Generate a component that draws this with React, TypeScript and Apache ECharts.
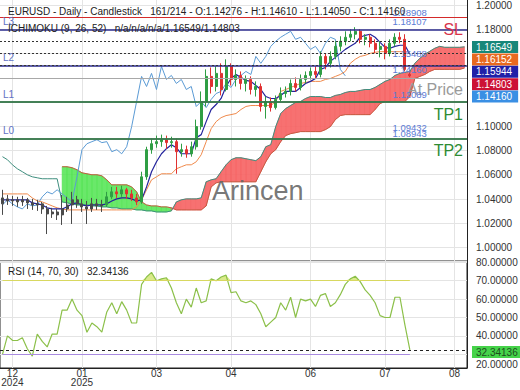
import React, { useEffect, useRef } from 'react';
import * as echarts from 'echarts';

const slotCount = 94;
const xTickIdx = [2, 16, 31, 46, 62, 77, 91];
const xTickLabels = ['12\n2024', '01\n2025', '03', '04', '06', '07', '08'];

const opens = [
  1.0360, 1.0401, 1.0384, 1.0393, 1.0376, 1.0393, 1.0368, 1.0351, 1.0360, 1.0318,
  1.0277, 1.0293, 1.0269, 1.0318, 1.0351, 1.0393, 1.0360, 1.0335, 1.0318, 1.0360,
  1.0343, 1.0351, 1.0418, 1.0459, 1.0442, 1.0476, 1.0442, 1.0409, 1.0376, 1.0583,
  1.0807, 1.0856, 1.0873, 1.0889, 1.0865, 1.0873, 1.0790, 1.0807, 1.0773, 1.0831,
  1.0997, 1.1204, 1.1411, 1.1328, 1.1436, 1.1303, 1.1494, 1.1386, 1.1419, 1.1353,
  1.1386, 1.1303, 1.1328, 1.1163, 1.1204, 1.1154, 1.1221, 1.1270, 1.1287, 1.1353,
  1.1320, 1.1386, 1.1419, 1.1452, 1.1427, 1.1576, 1.1519, 1.1576, 1.1659, 1.1701,
  1.1734, 1.1759, 1.1783, 1.1717, 1.1734, 1.1684, 1.1634, 1.1659, 1.1601, 1.1684,
  1.1734, 1.1717, 1.14276,
];
const closes = [
  1.0409, 1.0384, 1.0393, 1.0376, 1.0393, 1.0368, 1.0351, 1.0360, 1.0318, 1.0277,
  1.0293, 1.0269, 1.0318, 1.0351, 1.0393, 1.0360, 1.0335, 1.0318, 1.0360, 1.0343,
  1.0351, 1.0418, 1.0459, 1.0442, 1.0476, 1.0442, 1.0409, 1.0376, 1.0583, 1.0807,
  1.0856, 1.0873, 1.0889, 1.0865, 1.0873, 1.0790, 1.0807, 1.0773, 1.0831, 1.0997,
  1.1204, 1.1411, 1.1328, 1.1436, 1.1303, 1.1494, 1.1386, 1.1419, 1.1353, 1.1386,
  1.1303, 1.1328, 1.1163, 1.1204, 1.1154, 1.1221, 1.1270, 1.1287, 1.1353, 1.1320,
  1.1386, 1.1419, 1.1452, 1.1427, 1.1576, 1.1519, 1.1576, 1.1659, 1.1701, 1.1734,
  1.1759, 1.1783, 1.1717, 1.1734, 1.1684, 1.1634, 1.1659, 1.1601, 1.1684, 1.1734,
  1.1717, 1.1469, 1.14160,
];
const lows = [
  1.0269, 1.0351, 1.0343, 1.0335, 1.0343, 1.0318, 1.0310, 1.0302, 1.0277, 1.0111,
  1.0244, 1.0227, 1.0186, 1.0293, 1.0194, 1.0327, 1.0293, 1.0194, 1.0293, 1.0310,
  1.0293, 1.0335, 1.0401, 1.0409, 1.0418, 1.0401, 1.0384, 1.0351, 1.0360, 1.0558,
  1.0773, 1.0823, 1.0831, 1.0815, 1.0823, 1.0608, 1.0749, 1.0740, 1.0749, 1.0807,
  1.0972, 1.1163, 1.1270, 1.1287, 1.1254, 1.1287, 1.1336, 1.1328, 1.1303, 1.1287,
  1.1262, 1.1245, 1.1121, 1.1063, 1.1121, 1.1138, 1.1204, 1.1237, 1.1254, 1.1287,
  1.1295, 1.1353, 1.1386, 1.1394, 1.1403, 1.1469, 1.1485, 1.1552, 1.1618, 1.1668,
  1.1701, 1.1717, 1.1684, 1.1668, 1.1651, 1.1601, 1.1568, 1.1552, 1.1576, 1.1659,
  1.1684, 1.1452, 1.14050,
];
const highs = [
  1.0476, 1.0434, 1.0426, 1.0418, 1.0426, 1.0409, 1.0401, 1.0393, 1.0376, 1.0343,
  1.0327, 1.0318, 1.0434, 1.0418, 1.0459, 1.0426, 1.0401, 1.0384, 1.0409, 1.0401,
  1.0393, 1.0459, 1.0500, 1.0500, 1.0509, 1.0492, 1.0476, 1.0442, 1.0625, 1.0831,
  1.0898, 1.0923, 1.0931, 1.0923, 1.0914, 1.0898, 1.0856, 1.0840, 1.0873, 1.1055,
  1.1287, 1.1469, 1.1485, 1.1494, 1.1519, 1.1552, 1.1519, 1.1469, 1.1452, 1.1419,
  1.1411, 1.1370, 1.1353, 1.1245, 1.1237, 1.1254, 1.1320, 1.1328, 1.1386, 1.1403,
  1.1427, 1.1452, 1.1485, 1.1494, 1.1618, 1.1601, 1.1618, 1.1701, 1.1742, 1.1783,
  1.1800, 1.1817, 1.1800, 1.1759, 1.1759, 1.1717, 1.1701, 1.1684, 1.1717, 1.1767,
  1.1775, 1.1759, 1.14610,
];

const tenkan = [
  1.0393, 1.0393, 1.0393, 1.0393, 1.0393, 1.0393, 1.0368, 1.0360, 1.0351, 1.0327,
  1.0318, 1.0318, 1.0318, 1.0335, 1.0360, 1.0368, 1.0351, 1.0343, 1.0351, 1.0351,
  1.0351, 1.0360, 1.0384, 1.0401, 1.0409, 1.0409, 1.0401, 1.0384, 1.0393, 1.0500,
  1.0625, 1.0707, 1.0773, 1.0815, 1.0848, 1.0823, 1.0773, 1.0773, 1.0773, 1.0906,
  1.0931, 1.1038, 1.1138, 1.1179, 1.1229, 1.1328, 1.1394, 1.1427, 1.1403, 1.1378,
  1.1370, 1.1336, 1.1303, 1.1245, 1.1229, 1.1229, 1.1254, 1.1287, 1.1287, 1.1287,
  1.1320, 1.1353, 1.1370, 1.1394, 1.1469, 1.1485, 1.1535, 1.1568, 1.1601, 1.1634,
  1.1659, 1.1684, 1.1734, 1.1750, 1.1759, 1.1734, 1.1692, 1.1651, 1.1643, 1.1659,
  1.1668, 1.1668, 1.15944,
];
const kijun = [
  1.0442, 1.0442, 1.0442, 1.0442, 1.0442, 1.0442, 1.0409, 1.0384, 1.0376, 1.0360,
  1.0343, 1.0327, 1.0318, 1.0310, 1.0310, 1.0310, 1.0310, 1.0310, 1.0310, 1.0310,
  1.0310, 1.0310, 1.0310, 1.0310, 1.0310, 1.0310, 1.0310, 1.0335, 1.0393, 1.0476,
  1.0558, 1.0583, 1.0608, 1.0608, 1.0608, 1.0649, 1.0666, 1.0682, 1.0682, 1.0707,
  1.0765, 1.0873, 1.0980, 1.1038, 1.1071, 1.1088, 1.1096, 1.1105, 1.1138, 1.1163,
  1.1171, 1.1171, 1.1171, 1.1171, 1.1171, 1.1204, 1.1287, 1.1303, 1.1320, 1.1336,
  1.1353, 1.1361, 1.1370, 1.1370, 1.1370, 1.1386, 1.1394, 1.1411, 1.1427, 1.1452,
  1.1519, 1.1552, 1.1576, 1.1585, 1.1601, 1.1610, 1.16152, 1.16152, 1.16152, 1.16152,
  1.16152, 1.16152, 1.16152,
];
const spanA = [
  null, null, null, null, null, null, null, null, null, null,
  null, null, 1.0666, 1.0666, 1.0658, 1.0641, 1.0616, 1.0608, 1.0600, 1.0600,
  1.0591, 1.0558, 1.0517, 1.0517, 1.0517, 1.0517, 1.0500, 1.0459, 1.0376, 1.0351,
  1.0343, 1.0343, 1.0335, 1.0335, 1.0327, 1.0310, 1.0310, 1.0310, 1.0310, 1.0310,
  1.0310, 1.0343, 1.0500, 1.0533, 1.0542, 1.0542, 1.0542, 1.0542, 1.0542, 1.0542,
  1.0542, 1.0542, 1.0625, 1.0707, 1.0773, 1.0807, 1.0873, 1.0923, 1.0939, 1.0947,
  1.0956, 1.0956, 1.0956, 1.0956, 1.0956, 1.0972, 1.0997, 1.1055, 1.1088, 1.1096,
  1.1096, 1.1096, 1.1096, 1.1096, 1.1096, 1.1138, 1.1187, 1.1204, 1.1204, 1.1204,
  1.1204, 1.1204, 1.1245, 1.1394, 1.1411, 1.1427, 1.1452, 1.1469, 1.1469, 1.1469,
  1.1469, 1.1469, 1.1469, 1.14803,
];
const spanB = [
  1.0749, 1.0724, 1.0682, 1.0649, 1.0625, 1.0600, 1.0583, 1.0575, 1.0567, 1.0567,
  1.0567, 1.0567, 1.0376, 1.0368, 1.0360, 1.0351, 1.0351, 1.0351, 1.0343, 1.0343,
  1.0335, 1.0335, 1.0327, 1.0327, 1.0318, 1.0318, 1.0318, 1.0310, 1.0310, 1.0302,
  1.0302, 1.0293, 1.0293, 1.0293, 1.0302, 1.0376, 1.0393, 1.0401, 1.0401, 1.0401,
  1.0409, 1.0542, 1.0558, 1.0567, 1.0625, 1.0682, 1.0724, 1.0740, 1.0740, 1.0732,
  1.0724, 1.0716, 1.0749, 1.0831, 1.0848, 1.0997, 1.1105, 1.1146, 1.1171, 1.1196,
  1.1204, 1.1229, 1.1245, 1.1245, 1.1245, 1.1237, 1.1237, 1.1254, 1.1262, 1.1278,
  1.1287, 1.1287, 1.1295, 1.1303, 1.1303, 1.1320, 1.1345, 1.1370, 1.1386, 1.1419,
  1.1436, 1.1444, 1.1452, 1.1519, 1.1560, 1.1593, 1.1618, 1.1643, 1.1659, 1.1651,
  1.1651, 1.1651, 1.1651, 1.16549,
];
const chikouShift = 13;

const rsi = [
  30, 40, 37.6, 37.5, 39, 33, 29, 41, 37, 34,
  41, 41, 54, 54, 60, 54, 51, 42, 47, 45,
  42, 53, 58, 52, 58.6, 54, 47, 47, 68, 72,
  74.5, 70, 71, 71.6, 66, 58, 52, 60, 55.6, 66,
  58, 59, 71, 70, 72, 73, 63.5, 64, 59, 58,
  59, 57, 52, 45, 47.5, 50, 58, 54, 61, 50,
  60, 59, 60, 56, 62, 63, 56, 58, 62.4, 68,
  71, 72.4, 69.5, 65, 62, 58, 51, 50, 50, 61,
  61, 46, 32.34136,
];
const rsiUpper = 70;
const rsiLower = 30;
const rsiLast = 32.34136;

const levelNames = ['L3', 'L2', 'L1', 'L0'];
const levelValues = [1.18107, 1.15488, 1.12089, 1.09432];
const targetNames = ['SL', 'TP1', 'TP2'];
const targetValues = [1.18908, 1.1196, 1.08943];
const atPrice = 1.1416;
const dottedValues = [1.16549, 1.16152, 1.15944, 1.14803];
const priceTags = [1.18908, 1.18107, 1.15488, 1.1416, 1.12089, 1.09432, 1.08943];
const valueBoxes = ['1.16549', '1.16152', '1.15944', '1.14803', '1.14160'];
const valueBoxColors = ['#17877a', '#e8691f', '#2020a8', '#cc1236', '#3a8fe4'];

const FONT = '"Liberation Sans", Arial, sans-serif';

export default function App() {
  const ref = useRef<HTMLDivElement>(null);
  useEffect(() => {
    const chart = echarts.init(ref.current!, null, { renderer: 'svg' });
    const cats = Array.from({ length: slotCount }, (_, i) => String(i));
    const lastIdx = closes.length - 1;

    const candleData = opens.map((o, i) => {
      const item: any = { value: [o, closes[i], lows[i], highs[i]] };
      if (i <= 20) {
        item.itemStyle = { color: '#4a4a4a', color0: '#4a4a4a', borderColor: '#4a4a4a', borderColor0: '#4a4a4a' };
      }
      return item;
    });

    const cloudData: any[] = [];
    for (let i = 0; i < slotCount - 1; i++) {
      if (spanA[i] != null && spanA[i + 1] != null) {
        cloudData.push([i, spanA[i], spanB[i], spanA[i + 1], spanB[i + 1]]);
      }
    }

    const tickFilter = (idx: number) => xTickIdx.indexOf(idx) >= 0;
    const grayLines = ['rgba(0,0,0,0)'];
    for (let k = 0; k < 14; k++) grayLines.push('#e4e4e4');

    const markLineData: any[] = [];
    levelValues.forEach((v, k) => {
      markLineData.push({
        yAxis: v,
        lineStyle: { color: '#2b2b8c', width: 1.5, type: 'solid' },
        label: { show: true, position: 'insideStartTop', formatter: levelNames[k], color: '#6272c4', fontSize: 10, distance: 3, fontFamily: FONT },
      });
    });
    targetValues.forEach((v, k) => {
      markLineData.push({
        yAxis: v,
        lineStyle: { color: k === 0 ? '#d42a2a' : '#3c8c3c', width: k === 0 ? 1 : 1.5, type: 'solid' },
        label: { show: true, position: 'insideEndBottom', formatter: targetNames[k], color: k === 0 ? '#d8334a' : '#2e8b34', fontSize: 16, distance: 4, fontFamily: FONT },
      });
    });
    markLineData.push({
      yAxis: atPrice,
      lineStyle: { color: '#a8a8a8', width: 1, type: 'solid' },
      label: { show: true, position: 'insideEndBottom', formatter: 'At Price', color: '#9a9a9a', fontSize: 16, distance: 4, fontFamily: FONT },
    });
    dottedValues.forEach((v) => {
      markLineData.push({
        yAxis: v,
        lineStyle: { color: '#333', width: 1, type: [2, 2] },
        label: { show: false },
      });
    });

    const markPointData = priceTags.map((v) => ({
      coord: [78, v],
      symbol: 'circle',
      symbolSize: 1,
      itemStyle: { color: 'rgba(0,0,0,0)' },
      label: { show: true, position: 'right', distance: 2, offset: [0, -6], formatter: v.toFixed(5), color: '#5b7bd5', fontSize: 9.5, fontFamily: FONT },
    }));

    const graphics: any[] = [
      { type: 'text', left: 8, top: 6, z: 100, style: { text: 'EURUSD - Daily - Candlestick   161/214 - O:1.14276 - H:1.14610 - L:1.14050 - C:1.14160', fontSize: 10, fill: '#222', fontFamily: FONT } },
      { type: 'text', left: 8, top: 23, z: 100, style: { text: 'ICHIMOKU (9, 26, 52)   n/a/n/a/n/a/1.16549/1.14803', fontSize: 10, fill: '#222', fontFamily: FONT } },
      { type: 'text', left: 8, top: 266, z: 100, style: { text: 'RSI (14, 70, 30)   32.34136', fontSize: 10, fill: '#222', fontFamily: FONT } },
      { type: 'text', left: 212, top: 177, z: 100, style: { text: 'Arincen', fontSize: 27, fill: '#666', opacity: 0.9, fontFamily: FONT } },
      { type: 'text', left: 476, top: 359, z: 100, style: { text: '20.00000', fontSize: 10, fill: '#333', fontFamily: FONT } },
      { type: 'text', left: 472, top: 346, z: 101, style: { text: rsiLast.toFixed(5), fontSize: 10, lineHeight: 10, fill: '#1d4d1d', backgroundColor: '#46d34a', padding: [1, 6, 1, 4], fontFamily: FONT } },
    ];
    valueBoxes.forEach((t, k) => {
      graphics.push({
        type: 'text', left: 472, top: 41 + k * 12.4, z: 101,
        style: { text: t, fontSize: 10, lineHeight: 10, fill: '#fff', backgroundColor: valueBoxColors[k], padding: [1, 6, 1, 4], fontFamily: FONT },
      });
    });

    const hiddenPriceLabel = (v: number) => v > 1.115 && v < 1.17;

    const option: any = {
      animation: false,
      backgroundColor: '#fff',
      textStyle: { fontFamily: FONT },
      grid: [
        { left: 0, right: 53, top: -19.25, height: 291, outerBoundsMode: 'none', containLabel: false },
        { left: 0, right: 53, top: 261, height: 107, outerBoundsMode: 'none', containLabel: false, show: true, borderColor: '#222', borderWidth: 1, backgroundColor: 'rgba(0,0,0,0)' },
      ],
      xAxis: [
        {
          type: 'category', gridIndex: 0, data: cats, boundaryGap: true,
          axisLine: { show: false }, axisTick: { show: false }, axisLabel: { show: false },
          splitLine: { show: true, interval: (i: number) => tickFilter(i), alignWithLabel: true, lineStyle: { color: '#e4e4e4' } },
        },
        {
          type: 'category', gridIndex: 1, data: cats, boundaryGap: true,
          axisLine: { show: true, lineStyle: { color: '#222' } }, axisTick: { show: false },
          axisLabel: {
            interval: (i: number) => tickFilter(i),
            formatter: (_v: string, i: number) => { const k = xTickIdx.indexOf(i); return k >= 0 ? xTickLabels[k] : ''; },
            color: '#333', fontSize: 10, lineHeight: 9, margin: 1, fontFamily: FONT,
          },
          splitLine: { show: true, interval: (i: number) => tickFilter(i), alignWithLabel: true, lineStyle: { color: '#e4e4e4' } },
        },
      ],
      yAxis: [
        {
          type: 'value', gridIndex: 0, position: 'right', min: 0.98, max: 1.22, interval: 0.02, scale: true,
          axisLine: { show: true, lineStyle: { color: '#222' } }, axisTick: { show: false },
          axisLabel: { formatter: (v: number) => (hiddenPriceLabel(v) ? '' : v.toFixed(5)), color: '#333', fontSize: 10, margin: 9, showMinLabel: false, showMaxLabel: false, fontFamily: FONT },
          splitLine: { show: true, lineStyle: { color: grayLines } },
        },
        {
          type: 'value', gridIndex: 1, position: 'right', min: 22.55, max: 80.7, splitNumber: 6,
          axisLine: { show: true, lineStyle: { color: '#222' } }, axisTick: { show: false },
          axisLabel: { formatter: (v: number) => (Math.abs(v - 30) < 0.01 ? '' : v.toFixed(5)), color: '#333', fontSize: 10, margin: 9, showMinLabel: false, showMaxLabel: false, fontFamily: FONT },
          splitLine: { show: true, lineStyle: { color: '#e4e4e4' } },
        },
      ],
      series: [
        {
          type: 'custom', xAxisIndex: 0, yAxisIndex: 0, z: 1, silent: true,
          data: cloudData,
          encode: { x: 0, y: [1, 2, 3, 4] },
          renderItem: (_p: any, api: any) => {
            const i = api.value(0);
            const a0 = api.coord([i, api.value(1)]);
            const b0 = api.coord([i, api.value(2)]);
            const a1 = api.coord([i + 1, api.value(3)]);
            const b1 = api.coord([i + 1, api.value(4)]);
            const green = api.value(1) + api.value(3) > api.value(2) + api.value(4);
            const fill = green ? 'rgba(80,228,80,0.85)' : 'rgba(246,98,98,0.9)';
            return { type: 'polygon', shape: { points: [a0, a1, b1, b0] }, style: { fill, stroke: fill, lineWidth: 0.6 } };
          },
        },
        { type: 'line', name: 'spanA', xAxisIndex: 0, yAxisIndex: 0, z: 2, data: spanA, showSymbol: false, symbol: 'none', lineStyle: { color: '#c65a42', width: 1 } },
        { type: 'line', name: 'spanB', xAxisIndex: 0, yAxisIndex: 0, z: 2, data: spanB, showSymbol: false, symbol: 'none', lineStyle: { color: '#3e8e7e', width: 1 } },
        { type: 'line', name: 'chikou', xAxisIndex: 0, yAxisIndex: 0, z: 3, data: closes.slice(chikouShift), showSymbol: false, symbol: 'none', lineStyle: { color: '#5b9bd5', width: 1 } },
        { type: 'line', name: 'kijun', xAxisIndex: 0, yAxisIndex: 0, z: 3, data: kijun, showSymbol: false, symbol: 'none', lineStyle: { color: '#f08a4c', width: 1 } },
        { type: 'line', name: 'tenkan', xAxisIndex: 0, yAxisIndex: 0, z: 3, data: tenkan, showSymbol: false, symbol: 'none', lineStyle: { color: '#23239c', width: 1.2 } },
        {
          type: 'candlestick', xAxisIndex: 0, yAxisIndex: 0, z: 5, data: candleData, barWidth: 2.5,
          itemStyle: { color: '#2f9e44', color0: '#e03131', borderColor: '#2f9e44', borderColor0: '#e03131', borderWidth: 1 },
          markLine: { silent: true, symbol: ['none', 'none'], data: markLineData, z: 6 },
          markPoint: { silent: true, data: markPointData, z: 7 },
        },
        {
          type: 'line', xAxisIndex: 1, yAxisIndex: 1, z: 2, silent: true,
          data: rsi.map((v) => Math.max(v, rsiUpper)), showSymbol: false, symbol: 'none',
          lineStyle: { width: 0, opacity: 0 },
          areaStyle: { origin: rsiUpper, color: 'rgba(196,222,70,0.9)' },
        },
        {
          type: 'line', xAxisIndex: 1, yAxisIndex: 1, z: 3, data: rsi, showSymbol: false, symbol: 'none',
          lineStyle: { color: '#8cc04a', width: 1.2 },
          markLine: {
            silent: true, symbol: ['none', 'none'], label: { show: false },
            data: [
              [{ coord: [0, rsiUpper], lineStyle: { color: '#d8d860', width: 1.2, type: 'solid' } }, { coord: [lastIdx, rsiUpper] }],
              [{ coord: [0, rsiLower], lineStyle: { color: '#a98be0', width: 1.2, type: 'solid' } }, { coord: [lastIdx, rsiLower] }],
              { yAxis: rsiLast, lineStyle: { color: '#222', width: 1, type: [3, 3] } },
            ],
          },
        },
      ],
      graphic: graphics,
    };
    chart.setOption(option);
    return () => chart.dispose();
  }, []);
  return <div ref={ref} style={{ position: 'fixed', left: 0, top: 0, width: 520, height: 390, background: '#fff' }} />;
}
